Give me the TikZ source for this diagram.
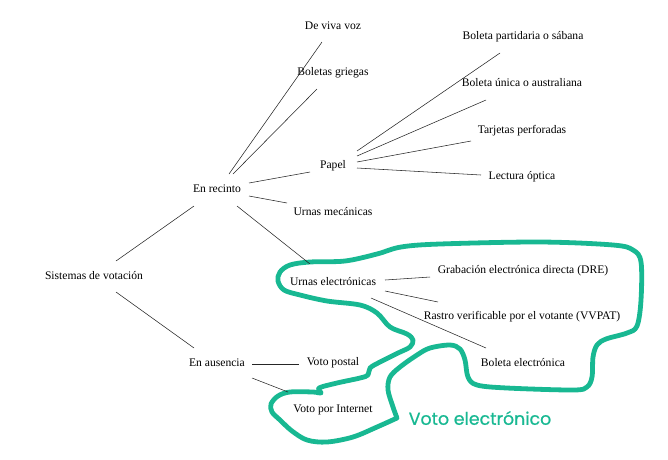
\documentclass[tikz,border=0pt]{standalone}
\usepackage{fontspec}
\setmainfont{Liberation Serif}
\newfontfamily\labelfont[FakeBold=0.7]{Poppins}
\usetikzlibrary{calc}
\definecolor{teal1}{RGB}{24,184,146}
\tikzset{
  item/.style={font=\fontsize{11.6}{13}\selectfont, inner sep=1pt},
  conn/.style={line width=0.55pt, black!85},
  blob/.style={line width=4.8pt, teal1, line join=round, line cap=round},
}
\begin{document}
\begin{tikzpicture}[x=1pt,y=-1pt]
\useasboundingbox (0,0) rectangle (668,459);
% teal outline
\draw[blob] plot[smooth, tension=0.55] coordinates {
 (397,418) (393,407) (388,390) (390,377) (400,367) (417,355) (430,348) (450,345)
 (460,349) (465,360) (468,377) (477,385) (507,388) (573,390) (587,387) (592,377)
 (593,357) (597,345) (606,339) (627,333) (637,326) (641,300) (641,262) (633,250)
 (613,245) (540,242) (440,244) (401,247) (377,254) (345,261) (310,262) (290,265)
 (280,272) (278,281) (284,290) (300,295) (327,301) (360,305) (377,313) (390,327)
 (407,334) (413,340) (410,347) (398,353) (380,362) (370,368) (368,375) (360,378)
 (337,383) (319,388) (321,393) (313,392) (290,392) (278,396) (271,404) (272,412)
 (280,420) (292,431) (307,440) (327,442) (353,437) (377,427) (397,418)};
% nodes
\node[item] (sis) at (94,276) {Sistemas de votación};
\node[item] (rec) at (217,189) {En recinto};
\node[item] (aus) at (217,363) {En ausencia};
\node[item] (dvv) at (333,26) {De viva voz};
\node[item] (bg)  at (333,73) {Boletas griegas};
\node[item] (pap) at (333,166) {Papel};
\node[item] (um)  at (333,212) {Urnas mecánicas};
\node[item] (ue)  at (333,282) {Urnas electrónicas};
\node[item] (vp)  at (333,363) {Voto postal};
\node[item] (vi)  at (333,410) {Voto por Internet};
\node[item] (bp)  at (523,37) {Boleta partidaria o sábana};
\node[item] (bu)  at (522,83) {Boleta única o australiana};
\node[item] (tp)  at (522,131) {Tarjetas perforadas};
\node[item] (lo)  at (522,177) {Lectura óptica};
\node[item] (dre) at (523,271) {Grabación electrónica directa (DRE)};
\node[item] (vv)  at (522,317) {Rastro verificable por el votante (VVPAT)};
\node[item] (be)  at (523,363) {Boleta electrónica};
\node[font=\labelfont\fontsize{17.4}{19}\selectfont, text=teal1, inner sep=0pt] (ve) at (480,418) {Voto electrónico};
% connectors
\draw[conn] ($(sis)+(22,-15)$) -- ($(rec)+(-23,17)$);
\draw[conn] ($(sis)+(22,16)$) -- ($(aus)+(-23,-15)$);
\draw[conn] ($(rec)+(12,-15)$) -- ($(dvv)+(-11,16)$);
\draw[conn] ($(rec)+(16,-15)$) -- ($(bg)+(-16,16)$);
\draw[conn] ($(rec)+(32,-6)$) -- ($(pap)+(-23,6)$);
\draw[conn] ($(rec)+(32,7)$) -- ($(um)+(-46,-9)$);
\draw[conn] ($(rec)+(20,17)$) -- ($(ue)+(-23,-18)$);
\draw[conn] ($(aus)+(35,1)$) -- ($(vp)+(-34,1)$);
\draw[conn] ($(aus)+(35,15)$) -- ($(vi)+(-45,-18)$);
\draw[conn] ($(pap)+(24,-15)$) -- ($(bp)+(-23,16)$);
\draw[conn] ($(pap)+(24,-10)$) -- ($(bu)+(-36,17)$);
\draw[conn] ($(pap)+(24,-4)$) -- ($(tp)+(-51,10)$);
\draw[conn] ($(pap)+(24,2)$) -- ($(lo)+(-41,-2)$);
\draw[conn] ($(ue)+(52,-2)$) -- ($(dre)+(-93,6)$);
\draw[conn] ($(ue)+(52,9)$) -- ($(vv)+(-84,-15)$);
\draw[conn] ($(ue)+(38,16)$) -- ($(be)+(-37,-15)$);
\end{tikzpicture}
\end{document}
